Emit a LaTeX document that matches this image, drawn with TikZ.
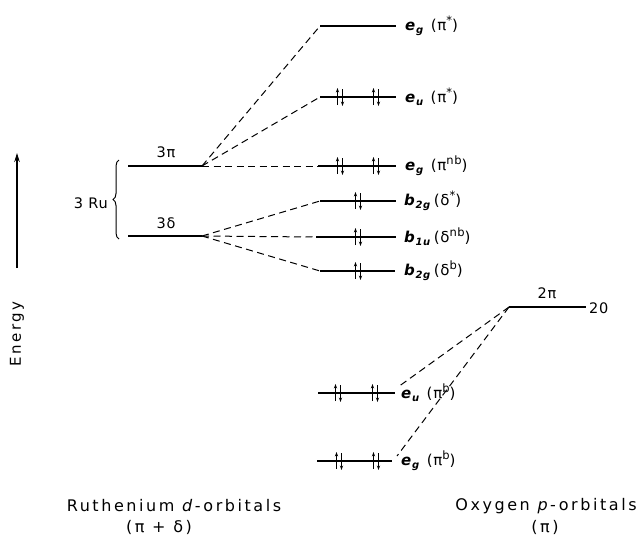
\documentclass[tikz,border=0pt]{standalone}
\usepackage{fontspec}
\setmainfont[LetterSpace=5]{DejaVu Sans}
\newfontfamily\widefont[LetterSpace=16]{DejaVu Sans}
\usetikzlibrary{arrows.meta,decorations.pathreplacing}
\tikzset{
  level/.style={line width=1.3pt},
  conn/.style={line width=1pt, dash pattern=on 7pt off 4.5pt},
  lab/.style={anchor=west, inner sep=0pt, font=\fontsize{15}{17}\selectfont},
  txt/.style={inner sep=0pt, font=\fontsize{14.5}{17}\selectfont},
  btxt/.style={inner sep=0pt, font=\fontsize{16}{18}\widefont},
  el/.style={line width=1pt, -{Stealth[length=4.5pt,width=3.2pt]}}
}
\newcommand{\epair}[2]{%
  \draw[el] (#1-2.5,#2+8) -- (#1-2.5,#2-9);
  \draw[el] (#1+2.5,#2-8) -- (#1+2.5,#2+9);}
\newcommand{\ital}[2]{\textit{\textbf{#1}}\raisebox{-0.35ex}{\fontsize{10}{10}\selectfont\textit{\textbf{#2}}}}
\newcommand{\sups}[1]{\raisebox{0.75ex}{\fontsize{11.5}{11.5}\selectfont #1}}
\begin{document}
\begin{tikzpicture}[x=1pt,y=-1pt]
\useasboundingbox (0,0) rectangle (637,542);
% left levels
\coordinate (piL) at (128,166); \coordinate (piR) at (202,166);
\coordinate (deL) at (128,236); \coordinate (deR) at (202,236);
\draw[level] (piL) -- (piR);
\draw[level] (deL) -- (deR);
\node[txt] (l3p) at (166,152) {3π};
\node[txt] (l3d) at (166,223) {3δ};
\draw[line width=1pt, decorate, decoration={brace, amplitude=6pt}] (119,239) -- (119,160);
\node[txt, anchor=east] (ru) at (108,203) {3 Ru};
% energy
\coordinate (eb) at (17,268); \coordinate (et) at (17,153);
\draw[line width=1.2pt, -{Stealth[length=9pt,width=5.5pt]}] (eb) -- (et);
\node[btxt, font=\fontsize{15}{17}\widefont, rotate=90] (en) at (17,334) {Energy};
% MO levels
\foreach \n/\y/\xa/\xb in {a/26/320/396, b/97/320/396, c/166/318/396, d/201/320/396, e/237/316/396, f/271/320/395, g/393/318/395, h/461/317/392}{
  \coordinate (\n L) at (\xa,\y); \coordinate (\n R) at (\xb,\y);
  \draw[level] (\n L) -- (\n R);
}
\epair{340}{97}\epair{376}{97}
\epair{340}{166}\epair{376}{166}
\epair{358}{201}
\epair{358}{237}
\epair{358}{271}
\epair{338}{393}\epair{375}{393}
\epair{339}{461}\epair{376}{461}
\node[lab] (la) at (405,26) {\ital{e}{g}\hspace{7pt}(π\sups{*})};
\node[lab] (lb) at (405,97) {\ital{e}{u}\hspace{7pt}(π\sups{*})};
\node[lab] (lc) at (405,166) {\ital{e}{g}\hspace{7pt}(π\sups{nb})};
\node[lab] (ld) at (404,201) {\ital{b}{2g}\hspace{3pt}(δ\sups{*})};
\node[lab] (le) at (404,237) {\ital{b}{1u}\hspace{3pt}(δ\sups{nb})};
\node[lab] (lf) at (404,271) {\ital{b}{2g}\hspace{3pt}(δ\sups{b})};
\node[lab] (lg) at (401,393) {\ital{e}{u}\hspace{7pt}(π\sups{b})};
\node[lab] (lh) at (401,461) {\ital{e}{g}\hspace{7pt}(π\sups{b})};
\coordinate (gT) at (398,387);
\coordinate (hT) at (397,456);
% oxygen
\coordinate (oL) at (509,307); \coordinate (oR) at (586,307);
\draw[level] (oL) -- (oR);
\node[txt] (o2p) at (547,293) {2π};
\node[txt, anchor=west] (o20) at (589,308) {20};
% connectors
\draw[conn] (piR) -- (aL);
\draw[conn] (piR) -- (bL);
\draw[conn] (piR) -- (cL);
\draw[conn] (deR) -- (dL);
\draw[conn] (deR) -- (eL);
\draw[conn] (deR) -- (fL);
\draw[conn] (oL) -- (gT);
\draw[conn] (oL) -- (hT);
% bottom
\node[btxt] (rt) at (174,506) {Ruthenium \textit{d}-orbitals};
\node[btxt] (rb) at (159,527) {(π + δ)};
\node[btxt] (ot) at (546,506) {Oxygen \textit{p}-orbitals};
\node[btxt] (ob) at (545,527) {(π)};
\end{tikzpicture}
\end{document}
